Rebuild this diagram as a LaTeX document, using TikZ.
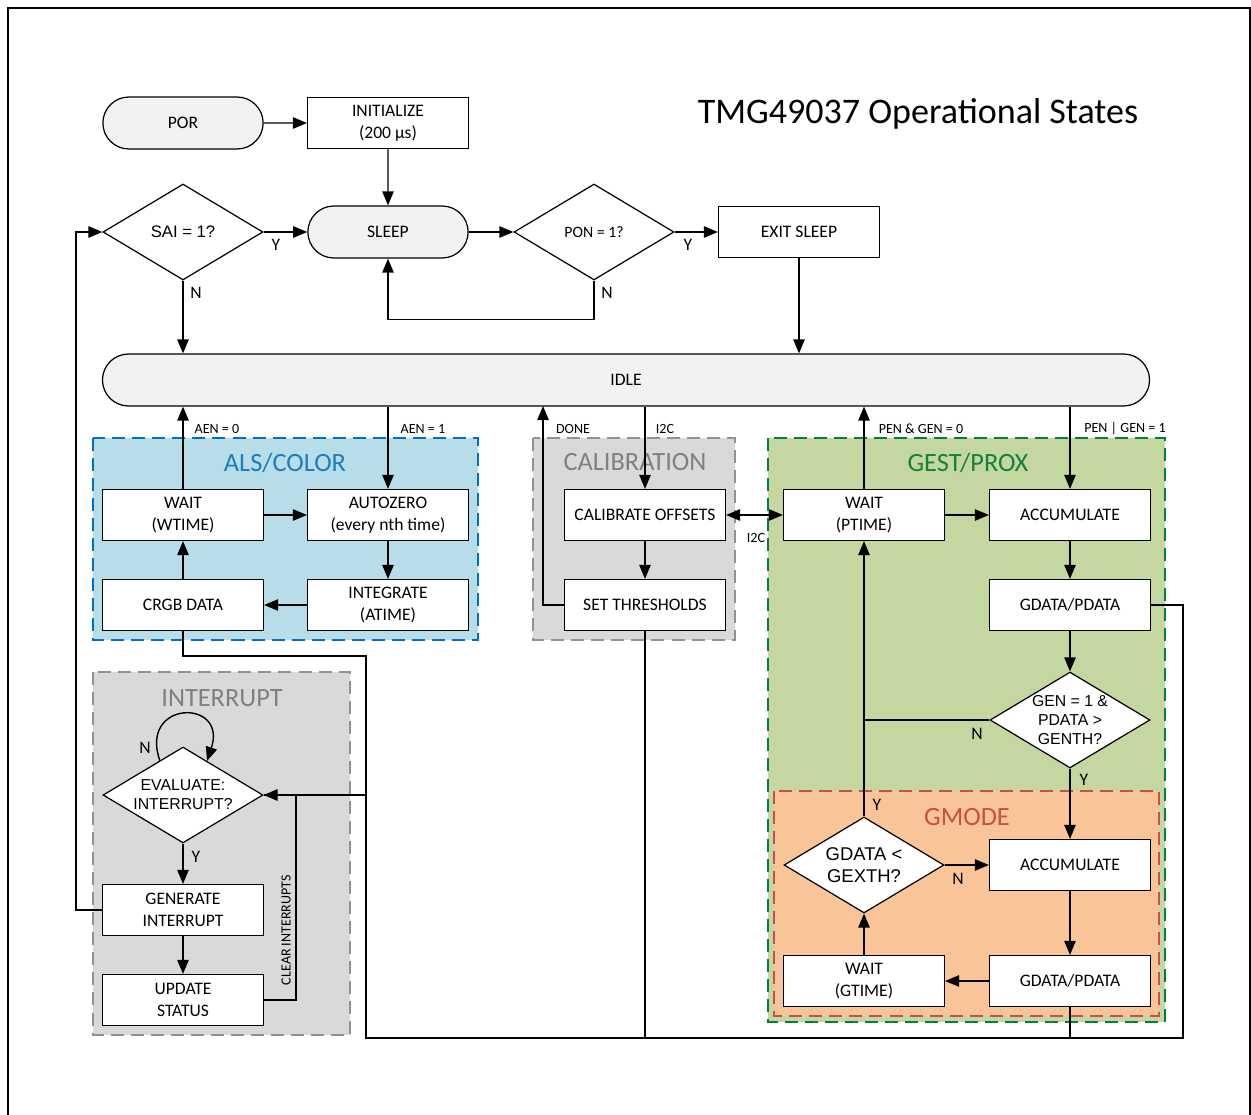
\documentclass[tikz,border=0pt]{standalone}
\usepackage{fontspec}
\setmainfont{Carlito}
\newfontfamily\arialfont{Liberation Sans}
\usetikzlibrary{shapes.geometric,shapes.misc,arrows.meta,positioning}

\definecolor{termgray}{RGB}{242,242,242}
\definecolor{alsfill}{RGB}{183,221,232}
\definecolor{alsline}{RGB}{0,112,192}
\definecolor{alstext}{RGB}{28,126,188}
\definecolor{grayfill}{RGB}{217,217,217}
\definecolor{grayline}{RGB}{145,145,145}
\definecolor{graytext}{RGB}{128,128,128}
\definecolor{gpfill}{RGB}{196,215,160}
\definecolor{gpline}{RGB}{0,128,64}
\definecolor{gptext}{RGB}{20,130,60}
\definecolor{gmfill}{RGB}{248,196,152}
\definecolor{gmline}{RGB}{200,80,70}

\tikzset{
  box/.style={draw, line width=0.7pt, fill=white, minimum width=3.22cm, minimum height=1.02cm,
    inner sep=1pt, align=center, font=\fontsize{10}{12.5}\selectfont},
  term/.style={draw, line width=0.7pt, rounded rectangle, fill=termgray, minimum width=3.44cm,
    minimum height=1.04cm, font=\fontsize{10}{12.5}\selectfont},
  decision/.style={draw, line width=0.7pt, diamond, fill=white, inner sep=0pt, minimum width=3.2cm,
    minimum height=1.92cm},
  dtext/.style={align=center, inner sep=0pt},
  group/.style={line width=0.9pt, dash pattern=on 7.4pt off 4pt},
  grouptitle/.style={font=\fontsize{15}{18}\selectfont},
  lbl/.style={font=\fontsize{8}{10}\selectfont, inner sep=0pt},
  yn/.style={font=\fontsize{10}{12}\selectfont, inner sep=0pt},
}

\begin{document}
\begin{tikzpicture}[x=0.02cm, y=-0.02cm, line width=0.8pt, >={Triangle[length=8pt,width=6.5pt]}]
\useasboundingbox (0,0) rectangle (1251,1115);
\draw[line width=1.2pt] (8,1115) -- (8,8) -- (1250,8) -- (1250,1115);

% groups
\draw[group, fill=alsfill, draw=alsline] (93,438) rectangle (478,640);
\draw[group, fill=grayfill, draw=grayline] (533,438) rectangle (735,640);
\draw[group, fill=grayfill, draw=grayline] (93,672) rectangle (350,1035);
\draw[group, fill=gpfill, draw=gpline] (768,438) rectangle (1165,1022);
\draw[group, fill=gmfill, draw=gmline] (774,791) rectangle (1159,1016);
\node[grouptitle, text=alstext] (alstitle) at (285,463) {ALS/COLOR};
\node[grouptitle, text=graytext] (caltitle) at (635,462) {CALIBRATION};
\node[grouptitle, text=graytext] (inttitle) at (222,698) {INTERRUPT};
\node[grouptitle, text=gptext] (gptitle) at (968,463) {GEST/PROX};
\node[grouptitle, text=gmline] (gmtitle) at (967,817) {GMODE};

\node[font=\fontsize{20.5}{24}\selectfont] (title) at (918,114) {TMG49037 Operational States};

% power up and sleep
\node[term] (por) at (183,123) {POR};
\node[box] (init) at (388,123) {INITIALIZE\\(200 µs)};
\node[term] (sleep) at (388,232) {SLEEP};
\node[decision] (sai) at (183,232) {};
\node[dtext, font=\arialfont\fontsize{9.5}{11}\selectfont] (saitext) at (sai) {SAI = 1?};
\node[decision] (pon) at (594,232) {};
\node[dtext, font=\fontsize{9}{11}\selectfont] (pontext) at (pon) {PON = 1?};
\node[box] (exit) at (799,232) {EXIT SLEEP};
\node[term, minimum width=21.18cm] (idle) at (626,380) {IDLE};

% als/color
\node[box] (wtime) at (183,515) {WAIT\\(WTIME)};
\node[box] (azero) at (388,515) {AUTOZERO\\(every nth time)};
\node[box] (crgb) at (183,605) {CRGB DATA};
\node[box] (integ) at (388,605) {INTEGRATE\\(ATIME)};

% calibration
\node[box] (calib) at (645,515) {CALIBRATE OFFSETS};
\node[box] (thresh) at (645,605) {SET THRESHOLDS};

% gest/prox
\node[box] (ptime) at (864,515) {WAIT\\(PTIME)};
\node[box] (acc) at (1070,515) {ACCUMULATE};
\node[box] (gpdata) at (1070,605) {GDATA/PDATA};
\node[decision] (gen) at (1070,720) {};
\node[dtext, font=\arialfont\fontsize{9}{10.8}\selectfont] (gentext) at (gen) {GEN = 1 \&\\PDATA >\\GENTH?};

% gmode
\node[decision] (gexth) at (864,865) {};
\node[dtext, font=\arialfont\fontsize{10.5}{12.5}\selectfont] (gexthtext) at (gexth) {GDATA <\\GEXTH?};
\node[box] (gacc) at (1070,865) {ACCUMULATE};
\node[box] (ggdata) at (1070,981) {GDATA/PDATA};
\node[box] (gtime) at (864,981) {WAIT\\(GTIME)};

% interrupt
\node[decision] (eval) at (183,795) {};
\node[dtext, font=\arialfont\fontsize{9}{10.8}\selectfont] (evaltext) at (eval) {EVALUATE:\\INTERRUPT?};
\node[box] (geni) at (183,910) {GENERATE\\INTERRUPT};
\node[box] (upd) at (183,1000) {UPDATE\\STATUS};
\node[lbl, rotate=90] (clrint) at (286,930) {CLEAR INTERRUPTS};

% connectors
\draw[->] (por) -- (init);
\draw[->] (init) -- (sleep);
\draw[->] (sai.east) -- (sleep.west);
\draw[->] (sleep.east) -- (pon.west);
\draw[->] (pon.east) -- (exit.west);
\draw[->] (pon.south) -- ++(0,39) -| (sleep.south);
\draw[->] (sai.south) -- (sai.south |- idle.north);
\draw[->] (exit.south) -- (exit.south |- idle.north);
\draw[->] (geni.west) -- ++(-26,0) |- (sai.west);

\draw[->] (wtime.north) -- (wtime.north |- idle.south);
\draw[->] (azero.north |- idle.south) -- (azero.north);
\draw[->] (wtime) -- (azero);
\draw[->] (azero) -- (integ);
\draw[->] (integ) -- (crgb);
\draw[->] (crgb) -- (wtime);

\coordinate (done) at (543,406);
\draw[->] (calib.north |- idle.south) -- (calib.north);
\draw[->] (calib) -- (thresh);
\draw[->] (thresh.west) -| (done);
\draw[<->] (calib.east) -- (ptime.west);

\draw[->] (ptime.north) -- (ptime.north |- idle.south);
\draw[->] (acc.north |- idle.south) -- (acc.north);
\draw[->] (ptime) -- (acc);
\draw[->] (acc) -- (gpdata);
\draw[->] (gpdata) -- (gen);
\draw (gen.west) -- (gen.west -| ptime.south);
\draw[->] (gexth.north) -- (ptime.south);
\draw[->] (gen.south) -- (gacc.north);
\draw[->] (gexth.east) -- (gacc.west);
\draw[->] (gacc) -- (ggdata);
\draw[->] (ggdata) -- (gtime);
\draw[->] (gtime) -- (gexth);

\draw[->] (eval) -- (geni);
\draw[->] (geni) -- (upd);
\draw (upd.east) -- ++(32,0) |- (eval.east);
\draw[->] (160,761) .. controls (138,700) and (228,698) .. (207,761);

% data bus
\coordinate (busa) at (366,656);
\coordinate (busb) at (366,1038);
\coordinate (busc) at (1183,1038);
\draw[line width=1pt] (crgb.south) |- (busa) -- (busb) -- (busc) |- (gpdata.east);
\draw[line width=1pt] (thresh.south) -- (thresh.south |- busb);
\draw[line width=1pt] (ggdata.south) -- (ggdata.south |- busb);
\draw[->, line width=1pt] (busa |- eval.east) -- (eval.east);

% labels
\node[yn] (ysai) at (276,245) {Y};
\node[yn] (nsai) at (196,293) {N};
\node[yn] (ypon) at (688,245) {Y};
\node[yn] (npon) at (607,293) {N};
\node[lbl] (aen0) at (217,429) {AEN = 0};
\node[lbl] (aen1) at (423,429) {AEN = 1};
\node[lbl] (ldone) at (573,429) {DONE};
\node[lbl] (i2ca) at (665,429) {I2C};
\node[lbl] (pen0) at (921,429) {PEN \& GEN = 0};
\node[lbl] (pen1) at (1125,429) {PEN | GEN = 1};
\node[lbl] (i2cb) at (756,538) {I2C};
\node[yn] (neval) at (145,748) {N};
\node[yn] (yeval) at (196,857) {Y};
\node[yn] (ngen) at (977,734) {N};
\node[yn] (ygen) at (1084,780) {Y};
\node[yn] (ygex) at (877,805) {Y};
\node[yn] (ngex) at (958,879) {N};
\end{tikzpicture}
\end{document}
